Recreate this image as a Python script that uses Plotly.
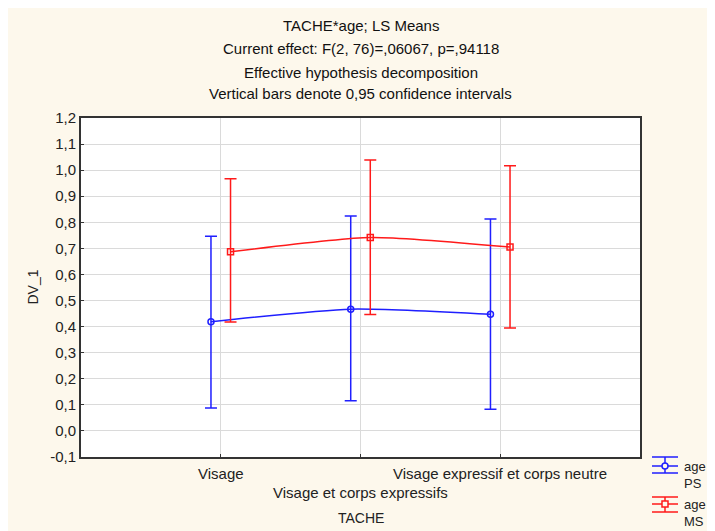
import plotly.graph_objects as go

# Data
categories = ["Visage", "Visage et corps expressifs", "Visage expressif et corps neutre"]
ps_mean = [0.419, 0.467, 0.447]
ps_low = [0.088, 0.116, 0.083]
ps_high = [0.747, 0.824, 0.813]
ms_mean = [0.687, 0.742, 0.705]
ms_low = [0.418, 0.446, 0.395]
ms_high = [0.967, 1.039, 1.017]
y_tickvals = [-0.1, 0.0, 0.1, 0.2, 0.3, 0.4, 0.5, 0.6, 0.7, 0.8, 0.9, 1.0, 1.1, 1.2]
y_ticktext = ["-0,1", "0,0", "0,1", "0,2", "0,3", "0,4", "0,5", "0,6",
              "0,7", "0,8", "0,9", "1,0", "1,1", "1,2"]
title_lines = [
    "TACHE*age; LS Means",
    "Current effect: F(2, 76)=,06067, p=,94118",
    "Effective hypothesis decomposition",
    "Vertical bars denote 0,95 confidence intervals",
]

W, H = 715, 531
OFF = 8  # page body margin
L, T = 73, 110
PW, PH = 559, 339
R, B = W - L - PW, H - T - PH
FONT = "Liberation Sans, Arial, sans-serif"
TXT = "#222"
BLUE = "#1f1fff"
RED = "#ff1a1a"
CREAM = "#fdf8ec"


def px(x):
    # page pixel -> paper x
    return (x - OFF - L) / PW


def py(y):
    # page pixel -> paper y
    return (T + PH - (y - OFF)) / PH


fig = go.Figure()

series = [
    ("PS", ps_mean, ps_low, ps_high, BLUE, "circle-open", -0.07),
    ("MS", ms_mean, ms_low, ms_high, RED, "square-open", 0.07),
]
for name, mean, low, high, color, symbol, off in series:
    fig.add_trace(go.Scatter(
        x=[i + off for i in range(len(categories))],
        y=mean,
        mode="lines+markers",
        name="age " + name,
        line=dict(color=color, width=1.5, shape="spline", smoothing=0.6),
        marker=dict(symbol=symbol, size=6, color=color, line=dict(width=1.5, color=color)),
        error_y=dict(
            type="data", symmetric=False,
            array=[h - m for h, m in zip(high, mean)],
            arrayminus=[m - lo for m, lo in zip(mean, low)],
            color=color, thickness=1.5, width=6,
        ),
        showlegend=False,
    ))

annotations = []
for i, line in enumerate(title_lines):
    annotations.append(dict(
        text=line, xref="paper", yref="paper", x=0.5, y=py([25, 49, 72, 94][i]),
        showarrow=False, xanchor="center", yanchor="middle",
        font=dict(family=FONT, size=15, color="#111"),
    ))

# staggered category labels
for i, cat in enumerate(categories):
    annotations.append(dict(
        text=cat, xref="x", yref="paper", x=i, y=py(492 if i == 1 else 473),
        showarrow=False, xanchor="center", yanchor="middle",
        font=dict(family=FONT, size=15, color=TXT),
    ))

annotations.append(dict(
    text="TACHE", xref="paper", yref="paper", x=0.5, y=py(518),
    showarrow=False, xanchor="center", yanchor="middle",
    font=dict(family=FONT, size=14, color=TXT),
))
annotations.append(dict(
    text="DV_1", xref="paper", yref="paper", x=px(32), y=0.5, textangle=-90,
    showarrow=False, xanchor="center", yanchor="middle",
    font=dict(family=FONT, size=14, color=TXT),
))

# manual legend with error bar icons
shapes = []
legend_items = [("PS", BLUE, 457, 466, 473, "circle"), ("MS", RED, 497, 504, 512, "rect")]
for name, color, ytop, ymid, ybot, mk in legend_items:
    for yy in (ytop, ymid, ybot):
        shapes.append(dict(type="line", xref="paper", yref="paper",
                           x0=px(652), x1=px(678), y0=py(yy), y1=py(yy),
                           line=dict(color=color, width=1.5)))
    shapes.append(dict(type="line", xref="paper", yref="paper",
                       x0=px(665), x1=px(665), y0=py(ytop), y1=py(ybot),
                       line=dict(color=color, width=1.5)))
    shapes.append(dict(type=mk, xref="paper", yref="paper",
                       x0=px(662), x1=px(668), y0=py(ymid - 3), y1=py(ymid + 3),
                       line=dict(color=color, width=1.5), fillcolor=CREAM))
    annotations.append(dict(
        text="age", xref="paper", yref="paper", x=px(682), y=py(ymid),
        showarrow=False, xanchor="left", yanchor="middle",
        font=dict(family=FONT, size=13, color=TXT),
    ))
    annotations.append(dict(
        text=name, xref="paper", yref="paper", x=px(682), y=py(ymid + 17),
        showarrow=False, xanchor="left", yanchor="middle",
        font=dict(family=FONT, size=13, color=TXT),
    ))

fig.update_layout(
    width=W, height=H,
    margin=dict(l=L, r=R, t=T, b=B, pad=0),
    paper_bgcolor=CREAM,
    plot_bgcolor="white",
    font=dict(family=FONT, size=15, color=TXT),
    xaxis=dict(
        range=[-1, 3], tickvals=[0, 1, 2], showticklabels=False,
        ticks="inside", ticklen=3, tickcolor="#333",
        showgrid=True, gridcolor="#dadada", gridwidth=1, zeroline=False,
        showline=True, linecolor="#333", linewidth=2, mirror=True,
    ),
    yaxis=dict(
        range=[-0.1, 1.2], tickvals=y_tickvals, ticktext=y_ticktext,
        ticks="inside", ticklen=3, tickcolor="#333",
        tickfont=dict(family=FONT, size=15, color=TXT),
        showgrid=True, gridcolor="#dadada", gridwidth=1, zeroline=False,
        showline=True, linecolor="#333", linewidth=2, mirror=True,
    ),
    annotations=annotations,
    shapes=shapes,
    showlegend=False,
)

fig.write_html("out.html")
